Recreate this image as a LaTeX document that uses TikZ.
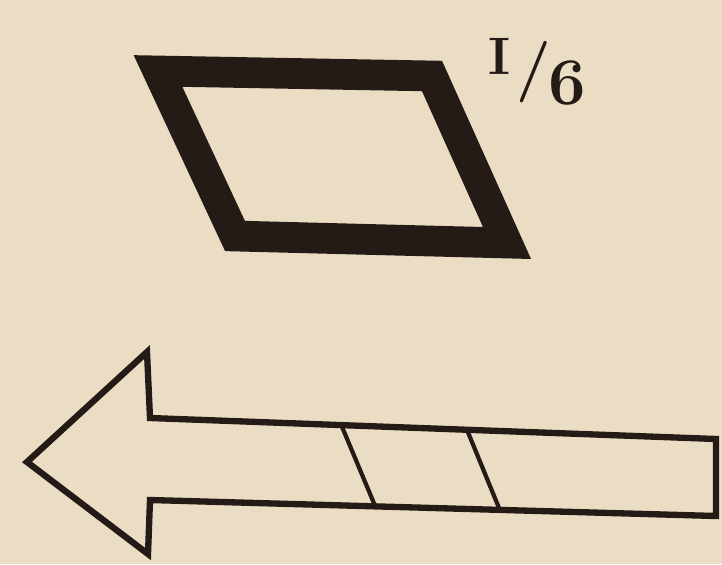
\documentclass[tikz,border=0pt]{standalone}
\usepackage{xcolor}
\usetikzlibrary{calc}

\definecolor{paper}{HTML}{EBDDC4}
\definecolor{ink}{HTML}{241B17}

\begin{document}
\begin{tikzpicture}[
    x=0.02cm, y=-0.02cm,
    frame/.style={draw=ink, line width=17.5pt, line join=miter},
    outline/.style={draw=ink, line width=3.6pt, line join=miter},
    divider/.style={draw=ink, line width=2.4pt},
    tag/.style={text=ink, inner sep=0pt, anchor=base west, font=\bfseries},
]

% --- Paper ---
\fill[paper] (0,0) rectangle (722,564);
\useasboundingbox (0,0) rectangle (722,564);

% --- Thick parallelogram (top) ---
\coordinate (pTL) at (158,71);
\coordinate (pTR) at (432,76);
\coordinate (pBR) at (507,243);
\coordinate (pBL) at (235,236);
\draw[frame] (pTL) -- (pTR) -- (pBR) -- (pBL) -- cycle;

% Label I/6 beside the upper right corner
\node[tag] (frac) at (488,75)
  {\fontsize{30}{30}\selectfont I\kern0.12em%
   \raisebox{-7pt}{\fontsize{35}{35}\selectfont/}\kern-0.05em%
   \raisebox{-17pt}{\fontsize{38}{38}\selectfont 6}};

% --- Hollow arrow pointing left (bottom) ---
\coordinate (tip)  at (27,462);
\coordinate (hTop) at (147,352);
\coordinate (sTL)  at (150,418);
\coordinate (sTR)  at (716,439);
\coordinate (sBR)  at (716,516);
\coordinate (sBL)  at (150,500);
\coordinate (hBot) at (148,554);
\draw[outline] (tip) -- (hTop) -- (sTL) -- (sTR) -- (sBR) -- (sBL) -- (hBot) -- cycle;

% Two slanted dividers across the shaft
\coordinate (d1a) at ($(sTL)!0.338!(sTR)$);
\coordinate (d1b) at ($(sBL)!0.398!(sBR)$);
\coordinate (d2a) at ($(sTL)!0.560!(sTR)$);
\coordinate (d2b) at ($(sBL)!0.618!(sBR)$);
\draw[divider] (d1a) -- (d1b);
\draw[divider] (d2a) -- (d2b);

\end{tikzpicture}
\end{document}
